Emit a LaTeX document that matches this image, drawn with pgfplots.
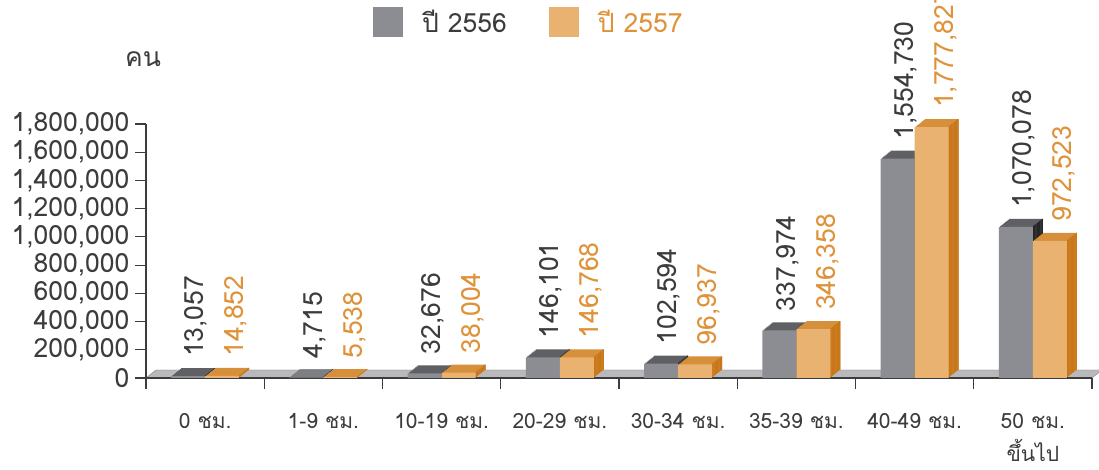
\documentclass[border=0pt]{standalone}
\usepackage{fontspec}
\setmainfont{Loma}[Script=Thai]
\usepackage{graphicx}
\usepackage{pgfplots}
\usepackage{pgfplotstable}
\pgfplotsset{compat=1.18}

\definecolor{grayfront}{RGB}{140,141,146}
\definecolor{graytop}{RGB}{95,96,100}
\definecolor{grayside}{RGB}{38,38,40}
\definecolor{orfront}{RGB}{233,178,112}
\definecolor{ortop}{RGB}{214,143,58}
\definecolor{orside}{RGB}{200,120,26}
\definecolor{ortext}{RGB}{222,146,58}
\definecolor{txt}{RGB}{60,60,62}
\definecolor{floorc}{RGB}{185,185,188}

\newcommand\bigf{\fontsize{26.5}{30}\selectfont}
\newcommand\smallf{\fontsize{21}{33}\selectfont}

% hours worked per week, persons
\pgfplotstableread{
x y lab
0 13057 13,057
1 4715 4,715
2 32676 32,676
3 146101 146,101
4 102594 102,594
5 337974 337,974
6 1554730 1,554,730
7 1070078 1,070,078
}\yrA
\pgfplotstableread{
x y lab
0 14852 14,852
1 5538 5,538
2 38004 38,004
3 146768 146,768
4 96937 96,937
5 346358 346,358
6 1777827 1,777,827
7 972523 972,523
}\yrB

\pgfplotsset{
  depth/.style={ybar, draw=none, forget plot, nodes near coords=},
}

\begin{document}
\begin{tikzpicture}
\begin{axis}[
  name=ax, set layers,
  scale only axis, width=946pt, height=254pt,
  xmin=-0.5, xmax=7.5, ymin=0, ymax=1800000,
  clip=false,
  axis lines*=left,
  axis line style={txt, line width=1.2pt},
  tick style={txt, line width=1.2pt},
  tick align=outside,
  major tick length=11pt,
  xtick={-0.5,0.5,...,7.5},
  x tick label as interval,
  xticklabels={0 ชม.,1-9 ชม.,10-19 ชม.,20-29 ชม.,30-34 ชม.,35-39 ชม.,40-49 ชม.,{50 ชม.\\ขึ้นไป}},
  xticklabel style={font=\smallf, text=txt, align=center, yshift=-21pt},
  ytick={0,200000,...,1800000},
  scaled y ticks=false,
  /pgf/number format/assume math mode=true,
  yticklabel style={font=\bigf, text=txt, xshift=-2pt, /pgf/number format/fixed, /pgf/number format/1000 sep={,}},
  nodes near coords={\rotatebox{90}{\pgfplotspointmeta}},
  every node near coord/.append style={font=\bigf, anchor=south, inner sep=0pt, yshift=19pt},
  legend columns=2,
  legend style={draw=none, fill=none, font=\bigf, text=txt,
    at={(axis description cs:0.24,1.4606)}, anchor=north west, inner sep=0pt,
    /tikz/every odd column/.append style={column sep=17pt},
    /tikz/every even column/.append style={column sep=40pt}},
  legend image code/.code={\fill[#1] (0pt,-15pt) rectangle (30pt,15pt);},
]
% floor, behind the bars
\begin{pgfonlayer}{axis background}
\fill[floorc, draw=gray] (axis cs:-0.5,0) -- (axis cs:7.5,0) -- ([shift={(10pt,8pt)}]axis cs:7.5,0) -- ([shift={(10pt,8pt)}]axis cs:-0.5,0) -- cycle;
\end{pgfonlayer}

% 3d depth: shifted copies (top colour), then thin side strips
\pgfplotsinvokeforeach{1,...,8}{
  \addplot[depth, bar width=34pt, bar shift={(-17+1.25*#1)*1pt}, yshift=#1pt, fill=graytop] table[x=x,y=y]{\yrA};
}
\pgfplotsinvokeforeach{1,...,8}{
  \addplot[depth, bar width=1.3pt, bar shift={(0.625*1+1.25*(#1-1))*1pt}, yshift=#1pt, fill=grayside] table[x=x,y=y]{\yrA};
}
\pgfplotsinvokeforeach{1,...,8}{
  \addplot[depth, bar width=34pt, bar shift={(17+1.25*#1)*1pt}, yshift=#1pt, fill=ortop] table[x=x,y=y]{\yrB};
}
\pgfplotsinvokeforeach{1,...,8}{
  \addplot[depth, bar width=1.3pt, bar shift={(34+0.625+1.25*(#1-1))*1pt}, yshift=#1pt, fill=orside] table[x=x,y=y]{\yrB};
}

% front faces
\addplot[ybar, bar width=34pt, bar shift=-17pt, fill=grayfront, draw=none,
  point meta=explicit symbolic,
  nodes near coords style={text=txt, xshift=-9pt}] table[x=x,y=y,meta=lab]{\yrA};
\addlegendentry{ปี 2556}
\addplot[ybar, bar width=34pt, bar shift=17pt, fill=orfront, draw=none,
  point meta=explicit symbolic,
  nodes near coords style={text=ortext, xshift=31pt}] table[x=x,y=y,meta=lab]{\yrB};
\addlegendentry{\textcolor{ortext}{ปี 2557}}

\node[font=\bigf, text=txt] at ([shift={(-3pt,65pt)}]rel axis cs:0,1) {คน};
\end{axis}
\pgfresetboundingbox
\path[use as bounding box] ([shift={(-146pt,-92pt)}]ax.south west) rectangle ([shift={(7pt,124pt)}]ax.north east);
\end{tikzpicture}
\end{document}
